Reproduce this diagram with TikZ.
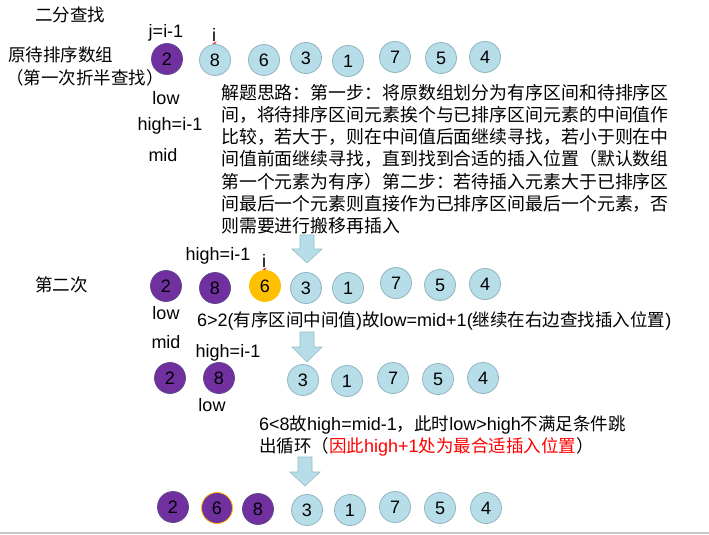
\documentclass[tikz,border=0pt]{standalone}
\usepackage{fontspec}
\setmainfont{Liberation Sans}
\newfontfamily\zh{Noto Sans CJK SC}
\usetikzlibrary{arrows.meta}
\definecolor{tealfill}{HTML}{B7DEE8}
\definecolor{tealline}{HTML}{8FB5BF}
\definecolor{purp}{HTML}{7030A0}
\definecolor{purpline}{HTML}{5F4A8A}
\definecolor{orng}{HTML}{FFC000}
\definecolor{arrfill}{HTML}{B7DEE8}
\definecolor{arrline}{HTML}{93BCC6}
\begin{document}
\begin{tikzpicture}[x=1pt,y=-1pt,
  cir/.style={circle,minimum size=31pt,inner sep=0pt,line width=0.8pt,font=\fontsize{18}{18}\selectfont},
  tc/.style={cir,fill=tealfill,draw=tealline},
  pc/.style={cir,fill=purp,draw=purpline},
  oc/.style={cir,fill=orng,draw=orng},
  poc/.style={cir,fill=purp,draw=orng},
  lab/.style={inner sep=0pt,font=\fontsize{18}{18}\selectfont},
  zlab/.style={inner sep=0pt,font=\fontsize{17.5}{18}\selectfont\zh},
  blockarrow/.style={fill=arrfill,draw=arrline,line width=0.6pt},
  tick/.style={red,line width=0.5pt,-{Straight Barb[length=1.5pt,width=4pt]}}
]
\useasboundingbox (0,0) rectangle (709,535);
\fill[white] (0,0) rectangle (709,535);

% titles
\node[zlab,anchor=west] (title) at (35,15) {二分查找};
\node[zlab,anchor=west] (orig) at (8,55) {原待排序数组};
\node[zlab,anchor=west] (first) at (6,78) {（第一次折半查找）};
\node[zlab,anchor=west] (second) at (35,285) {第二次};

% row 1
\node[pc] (a1) at (167,59) {2};
\node[tc] (a2) at (215,60) {8};
\node[tc] (a3) at (264,60) {6};
\node[tc] (a4) at (306,58) {3};
\node[tc] (a5) at (348,61) {1};
\node[tc] (a6) at (395,57) {7};
\node[tc] (a7) at (441,58) {5};
\node[tc] (a8) at (485,57) {4};
\node[lab] (j1) at (166,33) {j=i-1};
\node[lab] (i1) at (214,35) {i};
\draw[tick] (i1.south) -- (a2.north);
\node[lab] (low1) at (166,98) {low};
\node[lab] (high1) at (170,126) {high=i-1};
\node[lab] (mid1) at (163,155) {mid};

\node[zlab,anchor=north west,align=left,
  font=\fontsize{17.9}{22.2}\selectfont\zh] (para) at (221,84) {解题思路：第一步：将原数组划分为有序区间和待排序区\\
间，将待排序区间元素挨个与已排序区间元素的中间值作\\
比较，若大于，则在中间值后面继续寻找，若小于则在中\\
间值前面继续寻找，直到找到合适的插入位置（默认数组\\
第一个元素为有序）第二步：若待插入元素大于已排序区\\
间最后一个元素则直接作为已排序区间最后一个元素，否\\
则需要进行搬移再插入};

% arrow 1
\draw[blockarrow] (300,235) -- (314,235) -- (314,249) -- (322,249) -- (307,263) -- (292,249) -- (300,249) -- cycle;

% row 2
\node[pc] (b1) at (166,286) {2};
\node[pc] (b2) at (215,288) {8};
\node[oc] (b3) at (265,286) {6};
\node[tc] (b4) at (306,288) {3};
\node[tc] (b5) at (348,288) {1};
\node[tc] (b6) at (396,283) {7};
\node[tc] (b7) at (440,285) {5};
\node[tc] (b8) at (485,284) {4};
\node[lab] (high2) at (218,256) {high=i-1};
\node[lab] (i2) at (264,261) {i};
\draw[tick] (i2.south) -- (b3.north);
\node[lab] (low2) at (166,313) {low};
\node[lab] (mid2) at (166,342) {mid};
\node[lab,anchor=west] (note2) at (197,321) {6>2({\fontsize{17.5}{18}\zh 有序区间中间值}){\fontsize{17.5}{18}\zh 故}low=mid+1({\fontsize{17.5}{18}\zh 继续在右边查找插入位置})};

% arrow 2
\draw[blockarrow] (300,332) -- (314,332) -- (314,347) -- (322,347) -- (307,362) -- (292,347) -- (300,347) -- cycle;

% row 3
\node[pc] (c1) at (170,378) {2};
\node[pc] (c2) at (219,378) {8};
\node[tc] (c4) at (303,380) {3};
\node[tc] (c5) at (347,381) {1};
\node[tc] (c6) at (393,378) {7};
\node[tc] (c7) at (438,379) {5};
\node[tc] (c8) at (483,378) {4};
\node[lab] (high3) at (228,353) {high=i-1};
\node[lab] (low3) at (212,405) {low};

\node[lab,anchor=west] (note3a) at (259,425) {6<8{\fontsize{17.5}{18}\zh 故}high=mid-1{\fontsize{17.5}{18}\zh ，此时}low>high{\fontsize{17.5}{18}\zh 不满足条件跳}};
\node[lab,anchor=west] (note3b) at (259,447) {{\fontsize{17.5}{18}\zh 出循环（}\textcolor{red}{{\fontsize{17.5}{18}\zh 因此}high+1{\fontsize{17.5}{18}\zh 处为最合适插入位置}}{\fontsize{17.5}{18}\zh ）}};

% arrow 3
\draw[blockarrow] (298,457) -- (312,457) -- (312,472) -- (320,472) -- (305,486) -- (290,472) -- (298,472) -- cycle;

% row 4
\node[pc] (d1) at (173,507) {2};
\node[poc] (d2) at (217,508) {6};
\node[pc] (d3) at (258,509) {8};
\node[tc] (d4) at (307,510) {3};
\node[tc] (d5) at (350,510) {1};
\node[tc] (d6) at (395,507) {7};
\node[tc] (d7) at (440,508) {5};
\node[tc] (d8) at (486,508) {4};

% bottom rule
\draw[line width=2pt,color=black!22] (0,533) -- (709,533);
\end{tikzpicture}
\end{document}
